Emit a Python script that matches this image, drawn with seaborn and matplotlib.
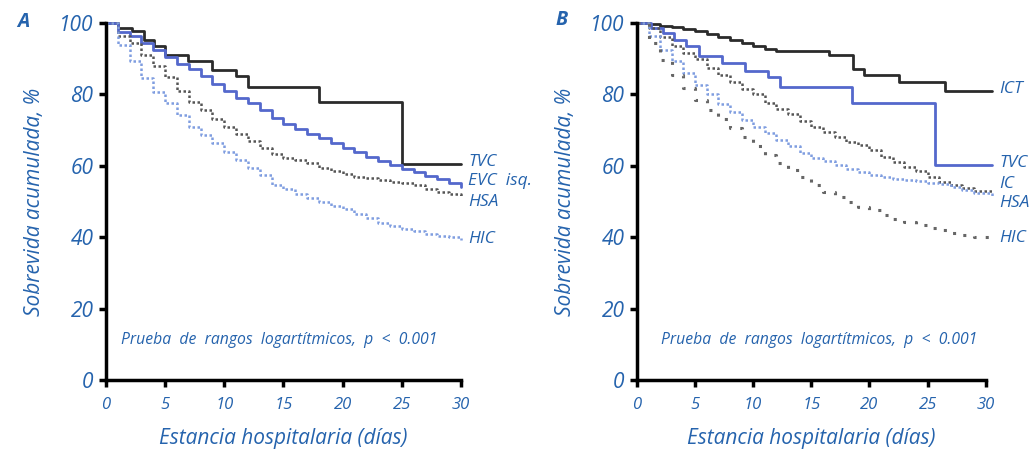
import numpy as np
import pandas as pd
import matplotlib
matplotlib.use("Agg")
import matplotlib.pyplot as plt
import seaborn as sns

# Curvas de supervivencia (Kaplan-Meier)
# Panel A
a_tvc_t = [0, 1, 2.2, 3.2, 4.1, 5, 6.9, 9, 11, 12, 18, 25, 30]
a_tvc_s = [100, 98.6, 97.7, 95.3, 93.5, 91.1, 89.3, 86.9, 85.2, 82.2, 78.0, 60.6, 60.6]

dias_a = list(range(0, 31))
a_evc_s = [100, 97.5, 96.5, 94.5, 92.5, 90.5, 88.5, 87, 85.2, 83, 81, 79, 77.5, 75.5, 73.5, 71.8,
           70.2, 69, 67.8, 66.4, 65, 63.8, 62.6, 61.4, 60.3, 59.2, 58.2, 57.2, 56.2, 55.2, 54.2]
a_hsa_s = [100, 96.5, 94.4, 91, 88, 85, 81, 78, 75.5, 73, 71, 69, 67, 65, 63.2, 62.3,
           61.5, 60.7, 59.5, 58.6, 57.8, 57, 56.5, 56, 55.6, 55.2, 54.5, 53.5, 52.8, 52, 51.4]
a_hic_s = [100, 93.9, 89.3, 84.6, 80.8, 77.6, 74.3, 71, 68.5, 66.4, 64, 61.7, 59.5, 57.5, 54.7, 53.5,
           52.2, 51, 50, 48.8, 47.8, 46.5, 45.3, 44, 43, 42.3, 41.7, 41, 40.4, 40, 39.3]

# Panel B
b_ict_t = [0, 1, 2, 3, 4, 5, 6, 7, 8, 9, 10, 11, 12, 16.5, 18.6, 19.5, 22.5, 26.5, 30.5]
b_ict_s = [100, 99.7, 99.3, 98.9, 98.3, 97.7, 97, 96.2, 95.3, 94.3, 93.5, 92.6, 92.1, 91.1, 87, 85.5, 83.6, 81, 81]
b_tvc_t = [0, 1.2, 2.2, 3.2, 4.2, 5.3, 7.3, 9.3, 11.3, 12.3, 18.5, 25.6, 30.5]
b_tvc_s = [100, 98.6, 97.2, 95.3, 93.5, 90.7, 88.8, 86.7, 85, 82.1, 77.6, 60.3, 60.3]

dias_b = list(range(0, 30)) + [30.5]
b_ic_s = [100, 98.5, 96, 93.5, 91.5, 89.8, 87.5, 85.5, 83.5, 81.5, 80.2, 77.5, 76, 74.5, 72.5, 71,
          69.5, 68, 66.8, 65.8, 64.5, 62.5, 61, 59.8, 58.5, 57, 55.5, 54.5, 53.8, 53, 52.3]
b_hsa_s = [100, 96.3, 92.5, 89.3, 86, 82.7, 80, 77.2, 75, 72.8, 71, 69.2, 67.3, 65.5, 63.6, 62.3,
           61.3, 60.3, 59.2, 58.2, 57.3, 56.8, 56.4, 56, 55.7, 55.3, 54.8, 54, 53.2, 52.3, 51.4]
b_hic_s = [100, 94.4, 89.7, 85.5, 81.8, 78.5, 75.5, 73, 70.5, 68, 65.5, 63, 60.8, 58.9, 56.8, 54.5,
           52.8, 51.2, 50, 48.6, 47.5, 46.3, 45.2, 44.2, 43.3, 42.5, 41.9, 41.2, 40.5, 40, 39.3]

ticks_x = [0, 5, 10, 15, 20, 25, 30]
ticks_y = [0, 20, 40, 60, 80, 100]

azul_txt = "#2563ad"
negro = "#2b2b2b"
azul = "#5468cc"
azul_claro = "#7f9de0"
gris = "#555555"

sns.set_theme(style="ticks")
plt.rcParams["font.family"] = ["Open Sans", "DejaVu Sans"]

fig = plt.figure(figsize=(10.34, 4.49), dpi=100)
ax_a = fig.add_axes([0.1025, 0.1537, 0.3433, 0.795])
ax_b = fig.add_axes([0.616, 0.1537, 0.3373, 0.795])

def curva(ax, t, s, color, lw, ls):
    sns.lineplot(x=t, y=s, ax=ax, drawstyle="steps-post", color=color, linewidth=lw,
                 linestyle=ls, clip_on=False, sort=False, estimator=None)

# Panel A
curva(ax_a, a_tvc_t, a_tvc_s, negro, 2.0, "-")
curva(ax_a, dias_a, a_evc_s, azul, 2.0, "-")
curva(ax_a, dias_a, a_hsa_s, gris, 1.8, (0, (1, 1)))
curva(ax_a, dias_a, a_hic_s, azul_claro, 1.8, (0, (1, 1)))

# Panel B
curva(ax_b, b_ict_t, b_ict_s, negro, 2.0, "-")
curva(ax_b, b_tvc_t, b_tvc_s, azul, 2.0, "-")
curva(ax_b, dias_b, b_ic_s, gris, 1.8, (0, (1, 1)))
curva(ax_b, dias_b, b_hsa_s, azul_claro, 1.8, (0, (1, 1)))
curva(ax_b, dias_b, b_hic_s, "#666666", 2.2, (0, (1, 3)))

etiquetas_a = [("TVC", 61.2), ("EVC  isq.", 55.8), ("HSA", 50.0), ("HIC", 39.4)]
etiquetas_b = [("ICT", 81.5), ("TVC", 60.9), ("IC", 54.8), ("HSA", 49.5), ("HIC", 39.7)]

for ax, etiquetas, x_lab, letra in [(ax_a, etiquetas_a, 30.6, "A"), (ax_b, etiquetas_b, 31.2, "B")]:
    ax.set_xlim(0, 30)
    ax.set_ylim(0, 100)
    ax.set_xticks(ticks_x)
    ax.set_yticks(ticks_y)
    ax.set_xticklabels([str(v) for v in ticks_x], fontsize=12, style="italic", color=azul_txt)
    ax.set_yticklabels([str(v) for v in ticks_y], fontsize=15, style="italic", color=azul_txt)
    sns.despine(ax=ax)
    for lado in ["left", "bottom"]:
        ax.spines[lado].set_linewidth(2.5)
        ax.spines[lado].set_color("black")
    ax.tick_params(axis="both", direction="out", length=5, width=2.5, color="black", pad=4)
    ax.tick_params(axis="x", pad=7)
    ax.set_xlabel("Estancia hospitalaria (días)", fontsize=15, style="italic", color=azul_txt, labelpad=11)
    ax.set_ylabel("Sobrevida acumulada, %", fontsize=15, style="italic", color=azul_txt, labelpad=10)
    for texto, y in etiquetas:
        ax.text(x_lab, y, texto, fontsize=12.5, style="italic", color=azul_txt,
                va="center", ha="left", clip_on=False)
    ax.text(1.3 if letra == "A" else 2.1, 11.2, "Prueba  de  rangos  logartítmicos,  p  <  0.001",
            fontsize=11.3, style="italic", color=azul_txt, va="center", ha="left")

fig.text(0.017, 0.95, "A", fontsize=14, style="italic", weight="bold", color=azul_txt, va="center")
fig.text(0.537, 0.955, "B", fontsize=14, style="italic", weight="bold", color=azul_txt, va="center")

fig.savefig("out.png", dpi=100)
